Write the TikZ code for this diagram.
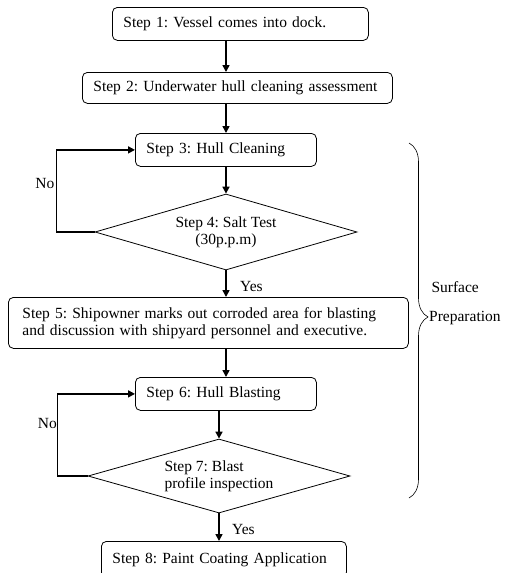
\documentclass[tikz,border=0pt]{standalone}
\usepackage{fontspec}
\setmainfont{Liberation Serif}
\frenchspacing
\usetikzlibrary{arrows.meta,shapes.geometric,decorations.pathreplacing}
\begin{document}
\begin{tikzpicture}[x=1pt,y=-1pt,font=\fontsize{15.5}{17}\selectfont,
    stepbox/.style={draw,line width=0.8pt,rounded corners=5pt,align=left,
      inner xsep=11pt,inner ysep=0pt,anchor=north west},
    testbox/.style={draw,line width=0.8pt,shape=diamond,shape aspect=3.4,inner sep=0pt},
    flow/.style={line width=1.6pt,-{Triangle[length=7pt,width=7pt]}}]
  \useasboundingbox (0,0) rectangle (504,573);

  %% the eight steps, top to bottom
  \node[stepbox,text width=234pt,minimum height=33pt] (s1) at (112,7) {Step 1: Vessel comes into dock.};
  \node[stepbox,text width=288pt,minimum height=31pt] (s2) at (82,72) {Step 2: Underwater hull cleaning assessment};
  \node[stepbox,text width=159pt,minimum height=33pt] (s3) at (135,133) {Step 3: Hull Cleaning};
  \node[testbox,align=center,minimum width=262pt,minimum height=76pt] (s4) at (226,232) {Step 4: Salt Test\\(30p.p.m)};
  \node[stepbox,inner xsep=14pt,text width=372pt,minimum height=51pt] (s5) at (8,297)
    {Step 5: Shipowner marks out corroded area for blasting\\and discussion with shipyard personnel and executive.};
  \node[stepbox,text width=159pt,minimum height=33pt] (s6) at (135,377) {Step 6: Hull Blasting};
  \node[testbox,align=left,minimum width=262pt,minimum height=74pt] (s7) at (219,476) {Step 7: Blast\\profile inspection};
  \node[stepbox,text width=223pt,minimum height=36pt] (s8) at (101,541) {Step 8: Paint Coating Application};

  %% main flow
  \draw[flow] (s1.south -| s4) -- (s2.north -| s4);
  \draw[flow] (s2.south -| s4) -- (s3.north -| s4);
  \draw[flow] (s3.south -| s4) -- (s4.north);
  \draw[flow] (s4.south) -- node[anchor=west,pos=0.6,xshift=10pt] (yes4) {Yes} (s5.north -| s4);
  \draw[flow] (s5.south -| s4) -- (s6.north -| s4);
  \draw[flow] (s6.south -| s7) -- (s7.north);
  \draw[flow] (s7.south) -- node[anchor=west,pos=0.6,xshift=9pt] (yes7) {Yes} (s8.north -| s7);

  %% the two "No" loops
  \draw[flow] (s4.west) -- ++(-38,0) coordinate (n4) |- (s3.west);
  \node[anchor=east,inner sep=2pt] (no4) at (n4 |- 0,183) {No};
  \draw[flow] (s7.west) -- ++(-30,0) coordinate (n7) |- (s6.west);
  \node[anchor=east,inner sep=0.5pt] (no7) at (n7 |- 0,423) {No};

  %% brace over steps 3 to 7
  \draw[line width=0.6pt,decorate,decoration={brace,amplitude=19pt,aspect=0.49}] (409,143) -- (409,498);
  \node[anchor=west] (surf) at (428,287) {Surface};
  \node[anchor=west,inner sep=1pt] (prep) at (428,318) {Preparation};
\end{tikzpicture}
\end{document}
